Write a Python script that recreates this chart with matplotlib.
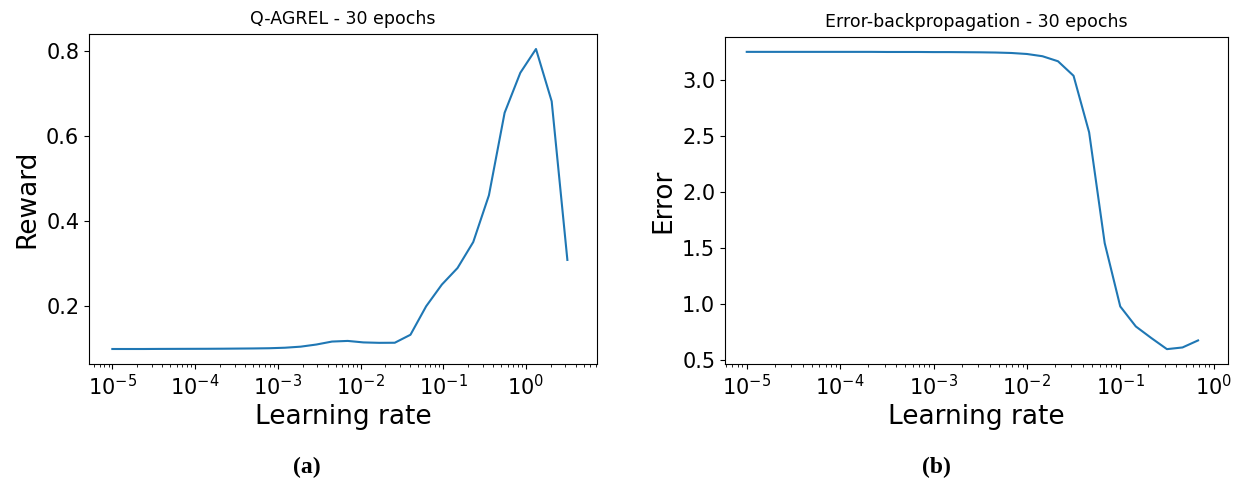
#!/usr/bin/env python3
"""
Learning-rate sweeps: Q-AGREL reward vs. error-backprop error (30 epochs).
"""
import matplotlib
matplotlib.use("Agg")
import matplotlib.pyplot as plt

matplotlib.rcParams.update({
    "font.family":     "DejaVu Sans",
    "xtick.labelsize": 15,
    "ytick.labelsize": 15,
    "axes.labelsize":  19,
    "axes.titlesize":  12.5,
})

# learning rates (log spaced) and results
LR_QAGREL = [1.0e-5, 1.548e-5, 2.395e-5, 3.707e-5, 5.736e-5, 8.877e-5,
             1.374e-4, 2.126e-4, 3.291e-4, 5.093e-4, 7.881e-4, 1.220e-3,
             1.888e-3, 2.921e-3, 4.520e-3, 6.995e-3, 1.083e-2, 1.675e-2,
             2.593e-2, 4.012e-2, 6.209e-2, 9.610e-2, 0.1487, 0.2302,
             0.3562, 0.5513, 0.8532, 1.320, 2.043, 3.162]
REWARD = [0.0985, 0.0985, 0.0985, 0.0987, 0.0988, 0.0989,
          0.0990, 0.0992, 0.0995, 0.0998, 0.1003, 0.1015,
          0.1040, 0.1090, 0.1160, 0.1175, 0.1140, 0.1130,
          0.1132, 0.1320, 0.1990, 0.2500, 0.2890, 0.3500,
          0.4600, 0.6540, 0.7480, 0.8040, 0.6810, 0.3080]

LR_BP = [1.0e-5, 1.468e-5, 2.154e-5, 3.162e-5, 4.642e-5, 6.813e-5,
         1.0e-4, 1.468e-4, 2.154e-4, 3.162e-4, 4.642e-4, 6.813e-4,
         1.0e-3, 1.468e-3, 2.154e-3, 3.162e-3, 4.642e-3, 6.813e-3,
         1.0e-2, 1.468e-2, 2.154e-2, 3.162e-2, 4.642e-2, 6.813e-2,
         0.1, 0.1468, 0.2154, 0.3162, 0.4642, 0.6813]
ERROR = [3.254, 3.254, 3.254, 3.254, 3.254, 3.254,
         3.254, 3.254, 3.254, 3.253, 3.253, 3.253,
         3.252, 3.252, 3.251, 3.250, 3.248, 3.244,
         3.235, 3.215, 3.170, 3.040, 2.534, 1.543,
         0.976, 0.797, 0.693, 0.594, 0.609, 0.672]

W, H = 1241, 478


def px_axes(fig, x0, y0, x1, y1):
    # axes box given in pixel coords (top-left origin)
    return fig.add_axes([x0 / W, (H - y1) / H, (x1 - x0) / W, (y1 - y0) / H])


def main():
    fig = plt.figure(figsize=(W / 100, H / 100), dpi=100)

    ax = px_axes(fig, 89, 34, 597, 364)
    ax.plot(LR_QAGREL, REWARD, lw=1.5)
    ax.set_xscale("log")
    ax.set_xlim(10 ** -5.282, 10 ** 0.858)
    ax.set_title("Q-AGREL - 30 epochs", pad=7)
    ax.set_xlabel("Learning rate")
    ax.set_ylabel("Reward")

    ax = px_axes(fig, 725, 37, 1228, 364)
    ax.plot(LR_BP, ERROR, lw=1.5)
    ax.set_xscale("log")
    ax.set_xlim(10 ** -5.233, 10 ** 0.154)
    ax.set_title("Error-backpropagation - 30 epochs", pad=7)
    ax.set_xlabel("Learning rate")
    ax.set_ylabel("Error")

    cap = dict(family="Liberation Serif", fontweight="bold", fontsize=17,
               ha="center", va="center")
    fig.text(306.5 / W, 1 - 467 / H, "(a)", **cap)
    fig.text(936.5 / W, 1 - 467 / H, "(b)", **cap)

    fig.savefig("out.png", dpi=100)
    plt.close(fig)


if __name__ == "__main__":
    main()
